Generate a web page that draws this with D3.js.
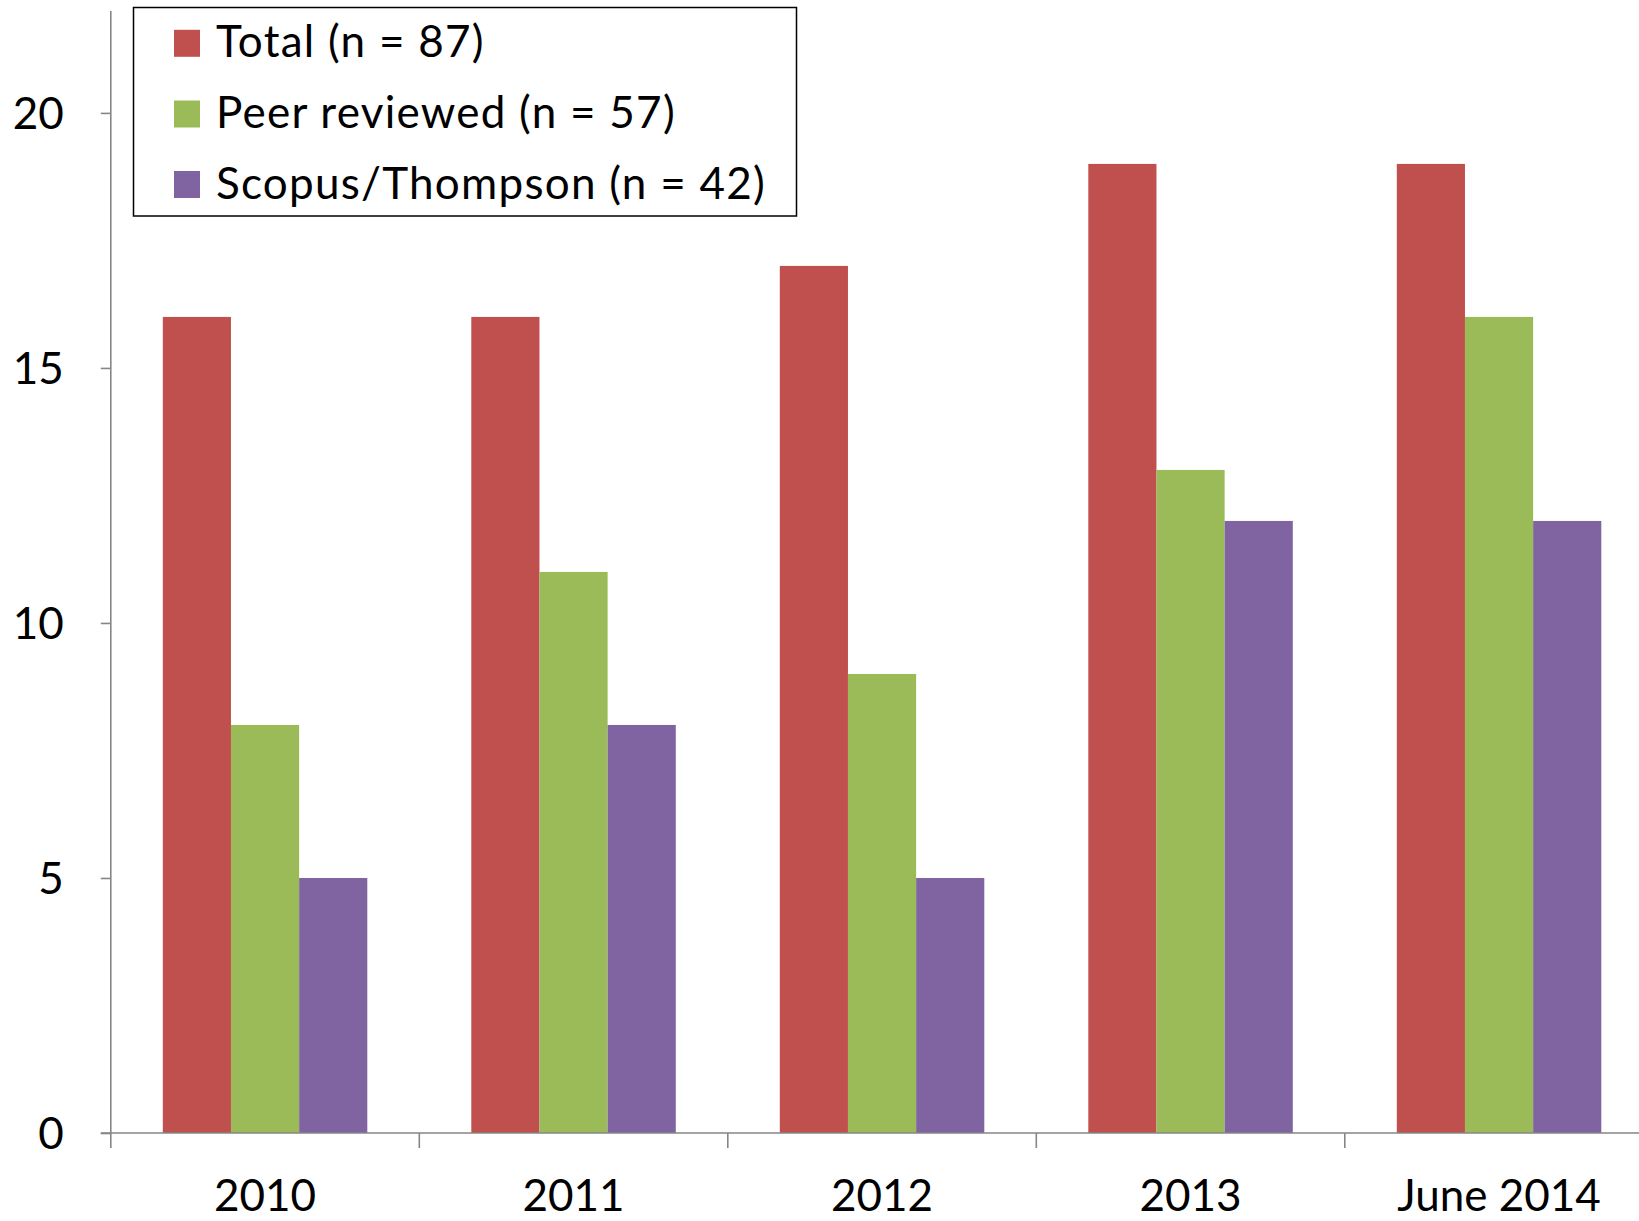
<!DOCTYPE html>
<html>
<head>
<meta charset="utf-8">
<script src="https://cdn.jsdelivr.net/npm/d3@7"></script>
<style>
  html, body { margin: 0; padding: 0; background: #fff; }
  svg { display: block; }
  text { font-family: Lato, "Open Sans", sans-serif; fill: #000; }
</style>
</head>
<body>
<svg id="chart" width="1639" height="1221"></svg>
<script>
const categories = ["2010", "2011", "2012", "2013", "June 2014"];
const seriesNames = ["Total (n = 87)", "Peer reviewed (n = 57)", "Scopus/Thompson (n = 42)"];
const totalValues = [16, 16, 17, 19, 19];
const peerValues = [8, 11, 9, 13, 16];
const scopusValues = [5, 8, 5, 12, 12];
const yTicks = [0, 5, 10, 15, 20];
const colors = ["#C0504D", "#9BBB59", "#8064A2"];

const seriesValues = [totalValues, peerValues, scopusValues];

const W = 1639, H = 1221;
const x0 = 110.8, step = 308.5, baseY = 1133, topY = 10.9;
const svg = d3.select("#chart");

const x = d3.scaleBand().domain(categories).range([x0, x0 + step * categories.length]).padding(0);
const xInner = d3.scaleBand().domain(d3.range(seriesNames.length)).range([52, step - 52]).padding(0);
const y = d3.scaleLinear().domain([0, 22]).range([baseY, topY]);

const axisColor = "#868686";
const fontSize = 44;

// bars
const groups = svg.append("g").selectAll("g")
  .data(categories)
  .join("g")
  .attr("transform", d => `translate(${x(d)},0)`);

groups.selectAll("rect")
  .data((d, i) => seriesValues.map((vals, s) => ({ s, v: vals[i] })))
  .join("rect")
  .attr("x", d => xInner(d.s))
  .attr("width", xInner.bandwidth())
  .attr("y", d => y(d.v))
  .attr("height", d => y(0) - y(d.v))
  .attr("fill", d => colors[d.s]);

// y axis
const yAxis = svg.append("g").attr("transform", `translate(${x0},0)`)
  .call(d3.axisLeft(y).tickValues(yTicks).tickSize(10).tickPadding(37).tickFormat(d3.format("d")));
yAxis.select(".domain").attr("stroke", axisColor).attr("stroke-width", 1.6).attr("d", `M0,${topY}V${baseY}`);
yAxis.selectAll(".tick line").attr("stroke", axisColor).attr("stroke-width", 1.6);
yAxis.selectAll(".tick text").attr("font-size", fontSize).attr("font-family", "Lato").attr("fill", "#000").attr("dy", "0.36em");

// x axis line
svg.append("line")
  .attr("x1", x0 - 10).attr("x2", W).attr("y1", baseY).attr("y2", baseY)
  .attr("stroke", axisColor).attr("stroke-width", 1.6);

// x ticks at band boundaries
svg.append("g").selectAll("line")
  .data(categories)
  .join("line")
  .attr("x1", d => x(d)).attr("x2", d => x(d))
  .attr("y1", baseY).attr("y2", baseY + 15)
  .attr("stroke", axisColor).attr("stroke-width", 1.6);

// x labels
svg.append("g").selectAll("text")
  .data(categories)
  .join("text")
  .attr("x", d => x(d) + x.bandwidth() / 2)
  .attr("y", 1211)
  .attr("text-anchor", "middle")
  .attr("font-size", fontSize)
  .text(d => d);

// legend
const legend = svg.append("g");
legend.append("rect")
  .attr("x", 133.5).attr("y", 7.5).attr("width", 663).attr("height", 208.5)
  .attr("fill", "#fff").attr("stroke", "#000").attr("stroke-width", 1.5);
const rowY = [41.8, 112.5, 183];
const items = legend.selectAll("g.item")
  .data(seriesNames)
  .join("g").attr("class", "item")
  .attr("transform", (d, i) => `translate(0,${rowY[i]})`);
items.append("rect")
  .attr("x", 174).attr("y", -12).attr("width", 26).attr("height", 27)
  .attr("fill", (d, i) => colors[i]);
items.append("text")
  .attr("x", 216).attr("y", 15.5)
  .attr("font-size", fontSize)
  .attr("letter-spacing", "1.25px")
  .text(d => d);
</script>
</body>
</html>
